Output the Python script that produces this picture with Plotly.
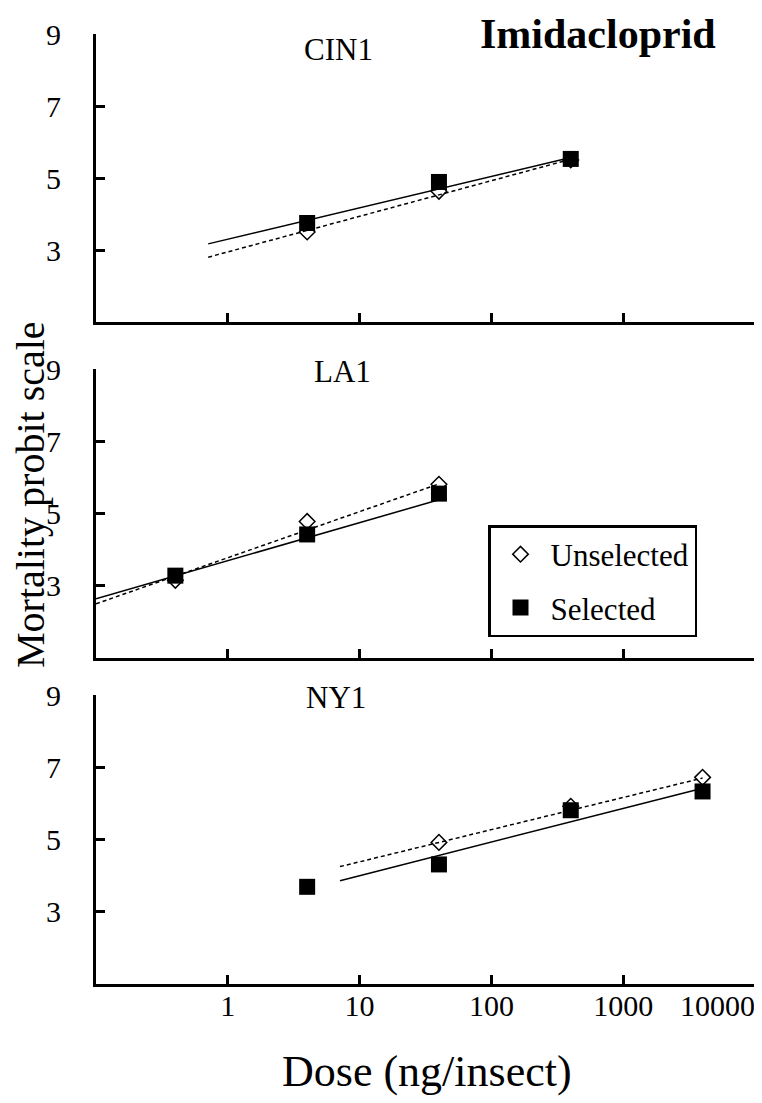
import plotly.graph_objects as go

# ---------------- data ----------------
panel_names = ["CIN1", "LA1", "NY1"]

# CIN1
cin_dose = [4, 40, 400]
cin_unsel = [3.5, 4.63, 5.5]
cin_sel = [3.75, 4.89, 5.53]
cin_fit_dose = [0.71, 400]
cin_fit_unsel = [2.8, 5.52]
cin_fit_sel = [3.17, 5.57]

# LA1
la_dose = [0.4, 4, 40]
la_unsel = [3.15, 4.78, 5.81]
la_sel = [3.28, 4.42, 5.55]
la_fit_dose = [0.1, 40]
la_fit_unsel = [2.5, 5.82]
la_fit_sel = [2.64, 5.38]

# NY1
ny_unsel_dose = [40, 400, 4000]
ny_unsel = [4.92, 5.92, 6.72]
ny_sel_dose = [4, 40, 400, 4000]
ny_sel = [3.69, 4.31, 5.81, 6.33]
ny_fit_dose = [7.1, 4000]
ny_fit_unsel = [4.25, 6.7]
ny_fit_sel = [3.86, 6.42]

x_tickvals = [1, 10, 100, 1000, 10000]
x_ticktext = ["1", "10", "100", "1000", "10000"]
y_tickvals = [3, 5, 7, 9]

FONT = "Liberation Serif, Times New Roman, serif"
SCREEN_W, SCREEN_H = 762, 1103
OFF = 8  # page body margin
W, H = SCREEN_W - OFF, SCREEN_H - OFF


def fx(xs):
    return (xs - OFF) / W


def fy(ys):
    return 1 - (ys - OFF) / H


panels = [
    dict(ud=cin_dose, u=cin_unsel, sd=cin_dose, s=cin_sel,
         fd=cin_fit_dose, fu=cin_fit_unsel, fs=cin_fit_sel),
    dict(ud=la_dose, u=la_unsel, sd=la_dose, s=la_sel,
         fd=la_fit_dose, fu=la_fit_unsel, fs=la_fit_sel),
    dict(ud=ny_unsel_dose, u=ny_unsel, sd=ny_sel_dose, s=ny_sel,
         fd=ny_fit_dose, fu=ny_fit_unsel, fs=ny_fit_sel),
]

# screen-pixel layout of panels (top, bottom)
panel_px = [(34, 322), (369, 658), (695, 984)]
x_px = (96, 755)

fig = go.Figure()

for i, p in enumerate(panels):
    k = "" if i == 0 else str(i + 1)
    xa, ya = "x" + k, "y" + k
    fig.add_trace(go.Scatter(x=p["fd"], y=p["fu"], mode="lines", xaxis=xa, yaxis=ya,
                             line=dict(color="black", width=1.5, dash="4px,3px"),
                             showlegend=False, legendgroup="u", hoverinfo="skip"))
    fig.add_trace(go.Scatter(x=p["fd"], y=p["fs"], mode="lines", xaxis=xa, yaxis=ya,
                             line=dict(color="black", width=1.5),
                             showlegend=False, legendgroup="s", hoverinfo="skip"))
    fig.add_trace(go.Scatter(x=p["ud"], y=p["u"], mode="markers", xaxis=xa, yaxis=ya,
                             name="Unselected", legendgroup="u", showlegend=(i == 0),
                             marker=dict(symbol="diamond-open", size=12, color="black",
                                         line=dict(width=1.5, color="black"))))
    fig.add_trace(go.Scatter(x=p["sd"], y=p["s"], mode="markers", xaxis=xa, yaxis=ya,
                             name="Selected", legendgroup="s", showlegend=(i == 0),
                             marker=dict(symbol="square", size=16, color="black")))

# empty helper trace so the overlaid label axis (x4) is drawn
fig.add_trace(go.Scatter(x=[], y=[], xaxis="x4", yaxis="y3", showlegend=False,
                         hoverinfo="skip"))

layout = dict(
    width=W, height=H,
    margin=dict(l=0, r=0, t=0, b=0, pad=0, autoexpand=False),
    paper_bgcolor="white", plot_bgcolor="white",
    font=dict(family=FONT, color="black", size=30),
    legend=dict(x=fx(488), y=fy(525), xanchor="left", yanchor="top",
                bordercolor="black", borderwidth=2.5, bgcolor="white",
                font=dict(family=FONT, size=31, color="black"),
                tracegroupgap=10, itemsizing="trace", traceorder="grouped",
                itemwidth=50),
)

tickfont = dict(family=FONT, size=30, color="black")
for i, (top, bot) in enumerate(panel_px):
    k = "" if i == 0 else str(i + 1)
    layout["xaxis" + k] = dict(
        type="log", range=[-1, 4], domain=[fx(x_px[0]), fx(x_px[1])],
        anchor="y" + k, showline=True, linecolor="black", linewidth=3,
        ticks="inside", ticklen=9, tickwidth=3, tickcolor="black",
        tickvals=x_tickvals, ticktext=x_ticktext[:-1] + [""],
        showticklabels=(i == 2), showgrid=False, zeroline=False,
        tickfont=tickfont, ticklabelstandoff=-7, automargin=False,
    )
    layout["yaxis" + k] = dict(
        range=[1, 9], domain=[fy(bot), fy(top)], anchor="x" + k,
        showline=True, linecolor="black", linewidth=3,
        ticks="inside", ticklen=9, tickwidth=3, tickcolor="black",
        tickvals=y_tickvals, showgrid=False, zeroline=False,
        tickfont=tickfont, ticklabelstandoff=26, automargin=False,
    )

# last x tick label is right-aligned to the axis end (as in the original)
layout["xaxis4"] = dict(
    type="log", range=[-1, 4], domain=[fx(x_px[0]), fx(x_px[1])],
    overlaying="x3", anchor="y3", showline=False, ticks="", showgrid=False,
    zeroline=False, tickvals=x_tickvals[-1:], ticktext=x_ticktext[-1:],
    ticklabelposition="outside left", tickfont=tickfont,
    ticklabelstandoff=1, automargin=False, side="bottom",
    ticklabeloverflow="allow",
)

fig.update_layout(**layout)

annotations = [
    dict(text="<b>Imidacloprid</b>", x=fx(598), y=fy(34), xref="paper", yref="paper",
         showarrow=False, font=dict(family=FONT, size=42, color="black"),
         xanchor="center", yanchor="middle"),
    dict(text="Mortality probit scale", x=fx(30), y=fy(495), xref="paper", yref="paper",
         showarrow=False, textangle=-90, font=dict(family=FONT, size=40, color="black"),
         xanchor="center", yanchor="middle"),
    dict(text="Dose (ng/insect)", x=fx(427), y=fy(1071), xref="paper", yref="paper",
         showarrow=False, font=dict(family=FONT, size=44, color="black"),
         xanchor="center", yanchor="middle"),
]
label_pos = [(338, 49), (342, 371), (336, 697)]
for name, (lx, ly) in zip(panel_names, label_pos):
    annotations.append(dict(text=name, x=fx(lx), y=fy(ly), xref="paper", yref="paper",
                            showarrow=False, font=dict(family=FONT, size=31, color="black"),
                            xanchor="center", yanchor="middle"))
fig.update_layout(annotations=annotations)

fig.write_html("out.html")
